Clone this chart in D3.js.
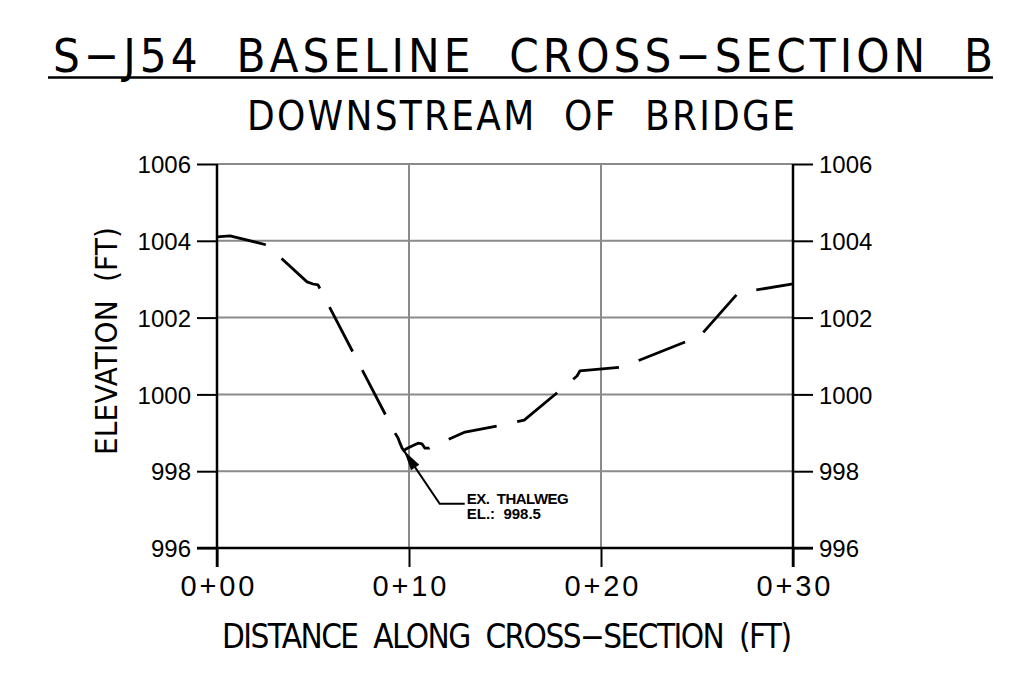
<!DOCTYPE html>
<html>
<head>
<meta charset="utf-8">
<script src="https://cdn.jsdelivr.net/npm/d3@7"></script>
<style>
  html, body { margin: 0; padding: 0; background: #fff; }
  svg { display: block; }
  .cad { font-family: "Liberation Sans Narrow", "Arial Narrow", "DejaVu Sans Condensed", sans-serif; white-space: pre; }
  .num { font-family: "Liberation Sans", Arial, sans-serif; }
</style>
</head>
<body>
<script>
// ---------- data ----------
const titleText = "S\u2212J54  BASELINE  CROSS\u2212SECTION  B";
const subtitleText = "DOWNSTREAM  OF  BRIDGE";
const xLabelText = "DISTANCE  ALONG  CROSS\u2212SECTION  (FT)";
const yLabelText = "ELEVATION  (FT)";

const distance = [0, 0.68, 2.6, 4.69, 5.0, 5.26, 9.27, 9.43, 9.53, 9.64, 9.74, 9.84, 10.05, 10.47, 10.68, 10.83, 11.04, 12.92, 14.63, 16.0, 17.76, 18.75, 18.9, 21.09, 21.5, 25.16, 27.14, 30];
const elevation = [1004.10, 1004.13, 1003.89, 1002.93, 1002.875, 1002.85, 998.995, 998.865, 998.73, 998.60, 998.53, 998.58, 998.63, 998.73, 998.71, 998.60, 998.60, 999.02, 999.18, 999.33, 1000.06, 1000.48, 1000.61, 1000.71, 1000.79, 1001.52, 1002.64, 1002.88];

const xTicks = [0, 10, 20, 30];
const xTickLabels = ["0+00", "0+10", "0+20", "0+30"];
const yTicks = [996, 998, 1000, 1002, 1004, 1006];
const yTickLabels = ["996", "998", "1000", "1002", "1004", "1006"];

const thalweg = { distance: 9.74, elevation: 998.53, label1: "EX.  THALWEG", label2: "EL.:  998.5" };
const leaderElbow = { distance: 11.6, elevation: 997.15 };

// ---------- layout ----------
const W = 1014, H = 676;
const x = d3.scaleLinear().domain([0, 30]).range([217, 793]);
const y = d3.scaleLinear().domain([996, 1006]).range([548, 164]);

const svg = d3.select("body").append("svg").attr("width", W).attr("height", H);

// titles
svg.append("text").attr("class", "cad")
  .attr("x", 53).attr("y", 72)
  .attr("font-size", 47)
  .attr("textLength", 940).attr("lengthAdjust", "spacing")
  .text(titleText);
svg.append("line").attr("x1", 48).attr("x2", 993).attr("y1", 77.5).attr("y2", 77.5)
  .attr("stroke", "#000").attr("stroke-width", 2.5);
svg.append("text").attr("class", "cad")
  .attr("x", 247).attr("y", 130)
  .attr("font-size", 40)
  .attr("textLength", 548).attr("lengthAdjust", "spacing")
  .text(subtitleText);

// grid
const g = svg.append("g");
g.selectAll(".hgrid").data(yTicks.filter(v => v !== 996)).enter().append("line")
  .attr("x1", x(0)).attr("x2", x(30))
  .attr("y1", d => y(d)).attr("y2", d => y(d))
  .attr("stroke", "#8a8a8a").attr("stroke-width", 2);
g.selectAll(".vgrid").data(xTicks.filter(v => v !== 0 && v !== 30)).enter().append("line")
  .attr("x1", d => x(d)).attr("x2", d => x(d))
  .attr("y1", y(1006)).attr("y2", y(996))
  .attr("stroke", "#8a8a8a").attr("stroke-width", 2);

// axes (d3 axes, styled like CAD)
const tickLen = 20;
const leftAxis = d3.axisLeft(y).tickValues(yTicks).tickFormat((d, i) => yTickLabels[i]).tickSize(tickLen).tickSizeOuter(0).tickPadding(6);
const rightAxis = d3.axisRight(y).tickValues(yTicks).tickFormat((d, i) => yTickLabels[i]).tickSize(tickLen).tickSizeOuter(0).tickPadding(6);
const bottomAxis = d3.axisBottom(x).tickValues(xTicks).tickFormat((d, i) => xTickLabels[i]).tickSize(19).tickSizeOuter(0).tickPadding(8);

function styleAxis(sel) {
  sel.select(".domain").remove();
  sel.selectAll(".tick line").attr("stroke", "#000").attr("stroke-width", 2);
  sel.selectAll(".tick text").attr("fill", "#000").attr("class", "num");
}
const ga = svg.append("g").attr("transform", `translate(${x(0)},0)`).call(leftAxis).call(styleAxis);
ga.selectAll(".tick text").attr("font-size", 24).attr("dy", "0.36em");
const gr = svg.append("g").attr("transform", `translate(${x(30)},0)`).call(rightAxis).call(styleAxis);
gr.selectAll(".tick text").attr("font-size", 24).attr("dy", "0.36em");
const gb = svg.append("g").attr("transform", `translate(0,${y(996)})`).call(bottomAxis).call(styleAxis);
gb.selectAll(".tick text").attr("font-size", 29).attr("dy", "0.71em")
  .attr("textLength", 74).attr("lengthAdjust", "spacing");

// frame lines: left, right axes extend below bottom; bottom line black
svg.append("line").attr("x1", x(0)).attr("x2", x(0)).attr("y1", y(1006)).attr("y2", y(996) + 19)
  .attr("stroke", "#000").attr("stroke-width", 2.5);
svg.append("line").attr("x1", x(30)).attr("x2", x(30)).attr("y1", y(1006)).attr("y2", y(996) + 19)
  .attr("stroke", "#000").attr("stroke-width", 2.5);
svg.append("line").attr("x1", x(0) - tickLen).attr("x2", x(30) + tickLen).attr("y1", y(996)).attr("y2", y(996))
  .attr("stroke", "#000").attr("stroke-width", 2.5);

// axis titles
svg.append("text").attr("class", "cad")
  .attr("x", 222).attr("y", 648)
  .attr("font-size", 33)
  .attr("textLength", 570).attr("lengthAdjust", "spacing")
  .text(xLabelText);
svg.append("text").attr("class", "cad")
  .attr("transform", "translate(117,455) rotate(-90)")
  .attr("font-size", 31)
  .attr("textLength", 228).attr("lengthAdjust", "spacing")
  .text(yLabelText);

// profile line
const pts = distance.map((d, i) => [d, elevation[i]]);
svg.append("path")
  .attr("d", d3.line().x(d => x(d[0])).y(d => y(d[1]))(pts))
  .attr("fill", "none").attr("stroke", "#000").attr("stroke-width", 2.8)
  .attr("stroke-linejoin", "round")
  .attr("stroke-dasharray", "50,21");

// thalweg annotation
const tip = [x(thalweg.distance), y(thalweg.elevation)];
const elb = [x(leaderElbow.distance), y(leaderElbow.elevation)];
svg.append("path")
  .attr("d", `M${tip[0]},${tip[1]} L${elb[0]},${elb[1]} L${elb[0] + 25},${elb[1]}`)
  .attr("fill", "none").attr("stroke", "#000").attr("stroke-width", 2);
const ang = Math.atan2(elb[1] - tip[1], elb[0] - tip[0]);
const aL = 20, aW = 5;
const bx = tip[0] + aL * Math.cos(ang), by = tip[1] + aL * Math.sin(ang);
svg.append("path")
  .attr("d", `M${tip[0]},${tip[1]} L${bx - aW * Math.sin(ang)},${by + aW * Math.cos(ang)} L${bx + aW * Math.sin(ang)},${by - aW * Math.cos(ang)} Z`)
  .attr("fill", "#000");
svg.append("text").attr("class", "num")
  .attr("x", elb[0] + 27).attr("y", elb[1] - 0)
  .attr("font-size", 15).attr("font-weight", "bold").style("white-space", "pre")
  .attr("textLength", 102).attr("lengthAdjust", "spacing")
  .text(thalweg.label1);
svg.append("text").attr("class", "num")
  .attr("x", elb[0] + 27).attr("y", elb[1] + 15)
  .attr("font-size", 15).attr("font-weight", "bold").style("white-space", "pre")
  .text(thalweg.label2);
</script>
</body>
</html>
